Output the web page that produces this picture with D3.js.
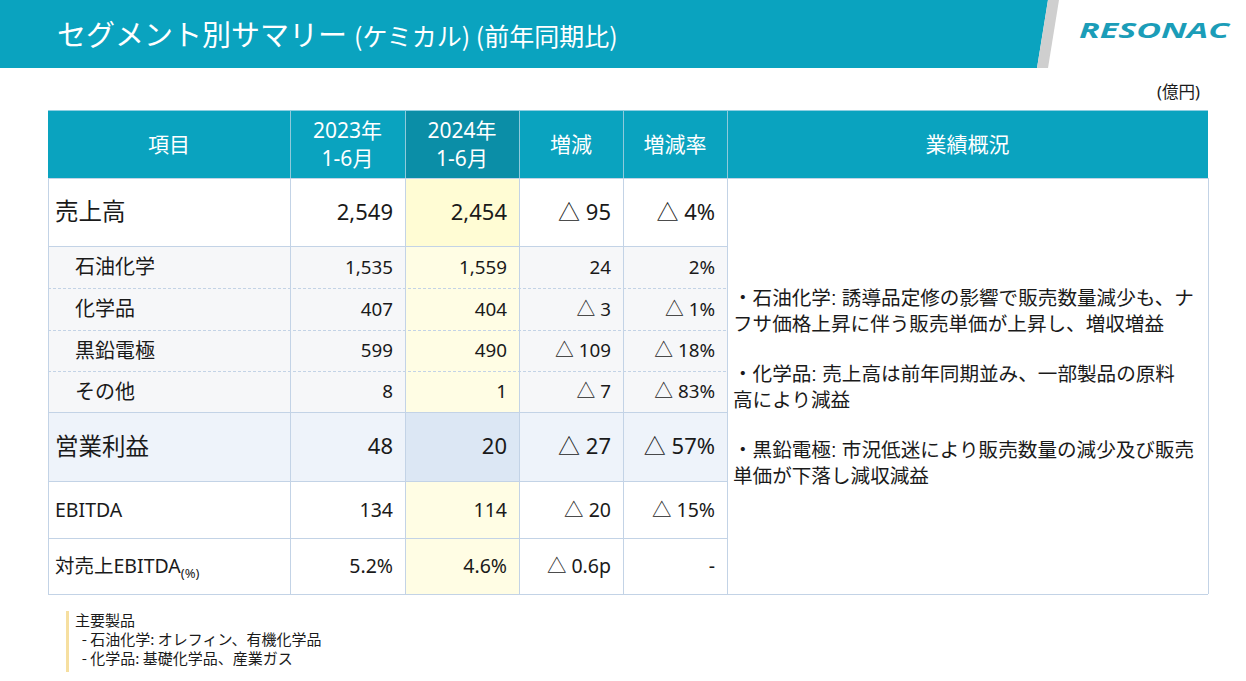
<!DOCTYPE html>
<html><head><meta charset="utf-8">
<script src="https://cdn.jsdelivr.net/npm/d3@7"></script>
<style>
html,body{margin:0;padding:0;background:#fff;}
svg{display:block;font-family:"Noto Sans","Noto Sans CJK JP",sans-serif;}
</style></head>
<body>
<svg id="c" width="1246" height="681"></svg>
<script>
// ---------- data ----------
const titleMain = "セグメント別サマリー";
const titleSub = "(ケミカル) (前年同期比)";
const unitLabel = "(億円)";
const headers = [["項目"], ["2023年", "1-6月"], ["2024年", "1-6月"], ["増減"], ["増減率"], ["業績概況"]];
const rowLabels = ["売上高", "石油化学", "化学品", "黒鉛電極", "その他", "営業利益", "EBITDA", "対売上EBITDA"];
const rowKinds = ["main", "sub", "sub", "sub", "sub", "profit", "ebitda", "ratio"];
const values2023 = [2549, 1535, 407, 599, 8, 48, 134, 5.2];
const values2024 = [2454, 1559, 404, 490, 1, 20, 114, 4.6];
const diffs = [-95, 24, -3, -109, -7, -27, -20, -0.6];
const rates = [-4, 2, -1, -18, -83, -57, -15, null];
const commentary = [
  ["・石油化学: 誘導品定修の影響で販売数量減少も、ナ", "フサ価格上昇に伴う販売単価が上昇し、増収増益"],
  ["・化学品: 売上高は前年同期並み、一部製品の原料", "高により減益"],
  ["・黒鉛電極: 市況低迷により販売数量の減少及び販売", "単価が下落し減収減益"]
];
const noteLines = ["主要製品", "  - 石油化学: オレフィン、有機化学品", "  - 化学品: 基礎化学品、産業ガス"];

// ---------- layout ----------
const svg = d3.select("#c");
const teal = "#0aa3bf", tealDark = "#0b8ea7", border = "#c3d3e6", ink = "#1a1a1a";
const colWidths = [242, 115, 114, 104, 104, 481];
const colEdges = [48].concat(Array.from(d3.cumsum(colWidths), v => 48 + v));
const colX = i => colEdges[i];
const headerTop = 110, headerH = 68;
const rowHeights = [68, 42, 42, 41, 41, 69, 57, 56];
const rowTops = [];
rowHeights.reduce((acc, h) => { rowTops.push(acc); return acc + h; }, headerTop + headerH);
const y = d3.scaleOrdinal().domain(rowLabels).range(rowTops);
const tableBottom = rowTops[rowTops.length - 1] + rowHeights[rowHeights.length - 1];

const fmtInt = d3.format(",");
const fmtNum = (v, i) => rowKinds[i] === "ratio" ? d3.format(".1f")(v) + "%" : fmtInt(v);
const fmtDiff = (v, i) => {
  const s = rowKinds[i] === "ratio" ? d3.format(".1f")(Math.abs(v)) + "p" : fmtInt(Math.abs(v));
  return v < 0 ? "△ " + s : s;
};
const fmtRate = v => v == null ? "-" : (v < 0 ? "△ " + Math.abs(v) + "%" : v + "%");

// ---------- title band ----------
svg.append("polygon").attr("points", "0,0 1048,0 1037,68 0,68").attr("fill", teal);
svg.append("polygon").attr("points", "1048,0 1059,0 1048,68 1037,68").attr("fill", "#cfcfcf");
const tt = svg.append("text").attr("x", 57).attr("y", 46).attr("fill", "#fff")
  .style("font-family", "'Noto Sans CJK JP'");
tt.append("tspan").attr("font-size", 29).text(titleMain);
tt.append("tspan").attr("font-size", 25).attr("dx", 7).text(titleSub);

svg.append("text").attr("x", 1079).attr("y", 38).attr("fill", "#1b9db8")
  .attr("font-size", 21).attr("font-weight", 700).attr("font-style", "italic")
  .attr("textLength", 150).attr("lengthAdjust", "spacingAndGlyphs")
  .style("font-family", "'Open Sans','Noto Sans',sans-serif")
  .text("RESONAC");

svg.append("text").attr("x", 1200).attr("y", 98).attr("text-anchor", "end")
  .attr("font-size", 16.5).attr("fill", ink).text(unitLabel);

// ---------- header ----------
const hdr = svg.append("g");
headers.forEach((h, i) => {
  hdr.append("rect").attr("x", colX(i)).attr("y", headerTop)
    .attr("width", colWidths[i]).attr("height", headerH)
    .attr("fill", i === 2 ? tealDark : teal);
  const cx = colX(i) + colWidths[i] / 2;
  const t = hdr.append("text").attr("text-anchor", "middle").attr("fill", "#fff")
    .attr("font-size", 21);
  if (h.length === 1) {
    t.append("tspan").attr("x", cx).attr("y", headerTop + headerH / 2).attr("dy", "0.36em").text(h[0]);
  } else {
    t.append("tspan").attr("x", cx).attr("y", headerTop + 20).attr("dy", "0.36em").text(h[0]);
    t.append("tspan").attr("x", cx).attr("y", headerTop + 48).attr("dy", "0.36em").text(h[1]);
  }
});
for (let i = 1; i < headers.length; i++) {
  hdr.append("line").attr("x1", colX(i) + 0.5).attr("x2", colX(i) + 0.5)
    .attr("y1", headerTop).attr("y2", headerTop + headerH).attr("stroke", "#8fcadb").attr("stroke-width", 1);
}
hdr.append("line").attr("x1", 48).attr("x2", 1208).attr("y1", headerTop + 0.5).attr("y2", headerTop + 0.5)
  .attr("stroke", "#8fcfe2");

// ---------- body ----------
const body = svg.append("g");
const rowBg = k => k === "sub" ? "#f6f7f9" : k === "profit" ? "#eef3fa" : "#ffffff";
const cell2024Bg = k => k === "main" ? "#fffcd4" : k === "profit" ? "#dce7f4" : "#fffde4";
const valueSize = k => (k === "main" || k === "profit") ? 22 : (k === "sub" ? 18.8 : 19.5);
const labelSize = k => (k === "main" || k === "profit") ? 23.5 : (k === "sub" ? 20 : 19.5);

rowLabels.forEach((lab, i) => {
  const k = rowKinds[i];
  const top = y(lab), h = rowHeights[i];
  body.append("rect").attr("x", 48).attr("y", top).attr("width", colEdges[5] - 48).attr("height", h).attr("fill", rowBg(k));
  body.append("rect").attr("x", colX(2)).attr("y", top).attr("width", colWidths[2]).attr("height", h).attr("fill", cell2024Bg(k));
  const cy = top + h / 2;
  const lt = body.append("text").attr("x", k === "sub" ? 75 : 55).attr("y", cy).attr("dy", "0.36em")
    .attr("font-size", labelSize(k)).attr("fill", ink);
  if (k === "ratio") {
    lt.append("tspan").text(lab);
    lt.append("tspan").attr("font-size", 13).attr("dy", "0.35em").text("(%)");
  } else {
    lt.text(lab);
  }
  const cells = [fmtNum(values2023[i], i), fmtNum(values2024[i], i), fmtDiff(diffs[i], i), fmtRate(rates[i])];
  cells.forEach((s, j) => {
    const right = colX(j + 2) - 12;
    body.append("text").attr("x", right).attr("y", cy).attr("dy", "0.36em")
      .attr("text-anchor", "end").attr("font-size", valueSize(k)).attr("fill", ink).text(s);
  });
});

// commentary cell
body.append("rect").attr("x", colX(5)).attr("y", headerTop + headerH).attr("width", colWidths[5])
  .attr("height", tableBottom - headerTop - headerH).attr("fill", "#fff");
const blockBase = [305, 381, 457];
commentary.forEach((lines, b) => {
  const t = body.append("text").attr("font-size", 19.6).attr("fill", ink)
    .style("font-family", "'Liberation Sans','Noto Sans CJK JP'");
  lines.forEach((ln, j) => {
    t.append("tspan").attr("x", 733).attr("y", blockBase[b] + j * 25.5).text(ln);
  });
});

// grid lines
const grid = svg.append("g").attr("stroke", border).attr("stroke-width", 1).attr("fill", "none");
rowTops.forEach((t, i) => {
  if (i === 0) return;
  const dashed = rowKinds[i] === "sub" && rowKinds[i - 1] === "sub";
  grid.append("line").attr("x1", 48).attr("x2", colX(5)).attr("y1", t + 0.5).attr("y2", t + 0.5)
    .attr("stroke-dasharray", dashed ? "3,2" : null);
});
for (let i = 0; i <= headers.length; i++) {
  grid.append("line").attr("x1", colX(i) + 0.5).attr("x2", colX(i) + 0.5)
    .attr("y1", headerTop + headerH).attr("y2", tableBottom);
}
grid.append("line").attr("x1", 48).attr("x2", 1208).attr("y1", tableBottom + 0.5).attr("y2", tableBottom + 0.5);
grid.append("line").attr("x1", 48).attr("x2", 1208).attr("y1", headerTop + headerH + 0.5).attr("y2", headerTop + headerH + 0.5);

// ---------- footnote ----------
svg.append("rect").attr("x", 66).attr("y", 611).attr("width", 3).attr("height", 61).attr("fill", "#f6dfa0");
const note = svg.append("text").attr("font-size", 15).attr("fill", ink)
  .style("white-space", "pre").style("font-family", "'Noto Sans CJK JP'");
noteLines.forEach((ln, i) => {
  note.append("tspan").attr("x", 75).attr("y", 626 + i * 19).text(ln);
});
</script>
</body></html>
